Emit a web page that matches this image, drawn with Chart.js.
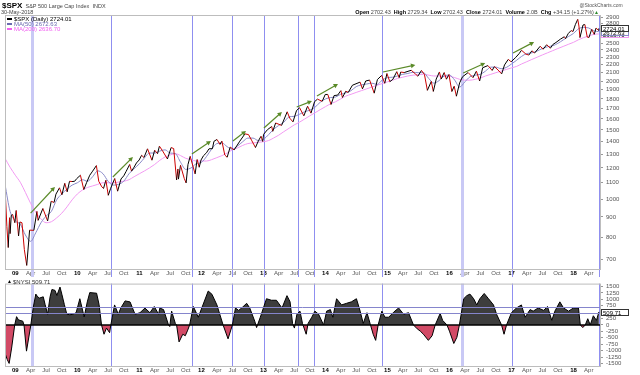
<!DOCTYPE html>
<html>
<head>
<meta charset="utf-8">
<script src="https://cdn.jsdelivr.net/npm/chart.js@4.4.1/dist/chart.umd.min.js"></script>
<style>
  html, body { margin: 0; padding: 0; background: #fff; }
  #wrap { position: relative; width: 640px; height: 375px; }
  canvas { position: absolute; left: 0; }
  #priceChart { top: 0; }
  #oscChart { top: 277px; }
</style>
</head>
<body>
<div id="wrap">
  <canvas id="priceChart" width="640" height="277"></canvas>
  <canvas id="oscChart" width="640" height="98"></canvas>
</div>
<script>
// $SPX daily close with MA(50)/MA(200), breadth oscillator panel below.
const FONT = "'Liberation Sans', Arial, sans-serif";

const priceDates = [
  '2008-11-04','2008-11-12','2008-11-20','2008-11-28','2008-12-01','2008-12-08','2008-12-16','2008-12-29',
  '2009-01-06','2009-01-20','2009-01-28','2009-02-09','2009-02-23','2009-03-09','2009-03-26','2009-04-20','2009-05-08','2009-05-15','2009-06-12','2009-07-10','2009-07-31','2009-08-17','2009-08-28','2009-09-18','2009-10-02','2009-10-19','2009-11-02','2009-11-16','2009-12-01','2009-12-16','2009-12-28',
  '2010-01-19','2010-02-08','2010-02-25','2010-03-15','2010-04-01','2010-04-23','2010-05-07','2010-05-25','2010-06-04','2010-06-18','2010-07-02','2010-07-16','2010-08-09','2010-08-26','2010-09-15','2010-10-01','2010-10-15','2010-11-05','2010-11-16','2010-12-01','2010-12-15','2010-12-31',
  '2011-01-14','2011-01-28','2011-02-18','2011-03-16','2011-04-01','2011-04-18','2011-04-29','2011-05-16','2011-06-15','2011-07-07','2011-07-22','2011-08-08','2011-08-16','2011-08-19','2011-08-31','2011-09-22','2011-10-03','2011-10-14','2011-10-27','2011-11-25','2011-12-07','2011-12-19','2011-12-30',
  '2012-01-13','2012-01-31','2012-02-15','2012-03-06','2012-03-15','2012-04-02','2012-04-20','2012-05-01','2012-05-18','2012-06-01','2012-06-19','2012-07-12','2012-08-15','2012-09-14','2012-10-05','2012-10-23','2012-11-15','2012-12-03','2012-12-18','2012-12-28',
  '2013-01-02','2013-01-25','2013-02-19','2013-02-25','2013-03-14','2013-04-18','2013-05-21','2013-06-05','2013-06-24','2013-07-15','2013-08-02','2013-08-27','2013-09-18','2013-10-08','2013-10-29','2013-11-15','2013-12-13','2013-12-31',
  '2014-01-15','2014-02-03','2014-02-21','2014-03-14','2014-04-02','2014-04-11','2014-05-01','2014-05-15','2014-06-09','2014-07-24','2014-08-07','2014-08-26','2014-09-18','2014-10-15','2014-11-03','2014-11-28','2014-12-16','2014-12-29',
  '2015-01-15','2015-02-02','2015-02-25','2015-03-11','2015-03-20','2015-04-10','2015-05-21','2015-06-15','2015-06-29','2015-07-20','2015-08-07','2015-08-24','2015-09-16','2015-09-28','2015-10-15','2015-11-03','2015-11-13','2015-12-01','2015-12-14','2015-12-29',
  '2016-01-15','2016-01-29','2016-02-11','2016-03-01','2016-03-18','2016-04-20','2016-05-19','2016-06-08','2016-06-27','2016-07-15','2016-08-15','2016-09-09','2016-09-22','2016-10-14','2016-11-04','2016-11-21','2016-12-13','2016-12-30',
  '2017-01-26','2017-02-15','2017-03-01','2017-03-27','2017-04-13','2017-05-01','2017-05-17','2017-06-19','2017-07-06','2017-07-27','2017-08-18','2017-09-01','2017-09-20','2017-10-16','2017-11-08','2017-11-15','2017-12-01','2017-12-18','2017-12-29',
  '2018-01-12','2018-01-26','2018-02-02','2018-02-08','2018-02-26','2018-03-09','2018-03-23','2018-04-02','2018-04-18','2018-05-03','2018-05-14','2018-05-29','2018-05-30'
];
const priceValues = [
  1005, 852, 752, 896, 816, 909, 913, 870,
  935, 805, 874, 870, 743, 677, 833, 832, 930, 882, 946, 879, 987, 980, 1029, 1068, 1025, 1097, 1043, 1110, 1108, 1110, 1127,
  1150, 1057, 1103, 1150, 1178, 1217, 1110, 1074, 1064, 1117, 1022, 1065, 1128, 1047, 1125, 1146, 1176, 1225, 1178, 1206, 1236, 1258,
  1293, 1276, 1343, 1256, 1332, 1305, 1364, 1330, 1265, 1353, 1345, 1119, 1193, 1124, 1219, 1129, 1099, 1224, 1285, 1159, 1261, 1205, 1258,
  1289, 1312, 1343, 1344, 1403, 1419, 1378, 1405, 1295, 1278, 1357, 1334, 1405, 1466, 1460, 1413, 1353, 1409, 1446, 1402,
  1462, 1503, 1531, 1488, 1563, 1541, 1669, 1608, 1573, 1682, 1709, 1630, 1725, 1656, 1771, 1798, 1775, 1848,
  1848, 1742, 1836, 1841, 1890, 1815, 1884, 1870, 1951, 1987, 1910, 2000, 2011, 1862, 2017, 2067, 1973, 2090,
  1992, 2020, 2113, 2040, 2108, 2102, 2130, 2084, 2057, 2128, 2077, 1893, 1995, 1881, 2023, 2109, 2023, 2102, 2021, 2078,
  1880, 1940, 1829, 1978, 2050, 2102, 2040, 2119, 2000, 2162, 2190, 2128, 2177, 2133, 2085, 2198, 2271, 2239,
  2297, 2349, 2396, 2342, 2329, 2388, 2357, 2453, 2410, 2475, 2425, 2477, 2508, 2557, 2594, 2565, 2642, 2690, 2674,
  2786, 2873, 2762, 2581, 2779, 2786, 2588, 2582, 2708, 2630, 2730, 2690, 2724.01
];

// moving averages, read at month starts
const maDates = [
  '2008-11','2008-12',
  '2009-01','2009-02','2009-03','2009-04','2009-05','2009-06','2009-07','2009-08','2009-09','2009-10','2009-11','2009-12',
  '2010-01','2010-02','2010-03','2010-04','2010-05','2010-06','2010-07','2010-08','2010-09','2010-10','2010-11','2010-12',
  '2011-01','2011-02','2011-03','2011-04','2011-05','2011-06','2011-07','2011-08','2011-09','2011-10','2011-11','2011-12',
  '2012-01','2012-02','2012-03','2012-04','2012-05','2012-06','2012-07','2012-08','2012-09','2012-10','2012-11','2012-12',
  '2013-01','2013-02','2013-03','2013-04','2013-05','2013-06','2013-07','2013-08','2013-09','2013-10','2013-11','2013-12',
  '2014-01','2014-02','2014-03','2014-04','2014-05','2014-06','2014-07','2014-08','2014-09','2014-10','2014-11','2014-12',
  '2015-01','2015-02','2015-03','2015-04','2015-05','2015-06','2015-07','2015-08','2015-09','2015-10','2015-11','2015-12',
  '2016-01','2016-02','2016-03','2016-04','2016-05','2016-06','2016-07','2016-08','2016-09','2016-10','2016-11','2016-12',
  '2017-01','2017-02','2017-03','2017-04','2017-05','2017-06','2017-07','2017-08','2017-09','2017-10','2017-11','2017-12',
  '2018-01','2018-02','2018-03','2018-04','2018-05','2018-05-30'
];
const ma50Values = [
  1090, 930,
  880, 860, 810, 780, 820, 870, 905, 930, 995, 1030, 1060, 1085,
  1100, 1120, 1110, 1140, 1180, 1160, 1110, 1085, 1090, 1110, 1160, 1195,
  1230, 1275, 1310, 1310, 1325, 1335, 1310, 1305, 1240, 1190, 1200, 1230,
  1240, 1285, 1340, 1385, 1390, 1360, 1340, 1365, 1400, 1430, 1430, 1410,
  1420, 1460, 1505, 1540, 1570, 1620, 1625, 1645, 1670, 1685, 1715, 1765,
  1800, 1815, 1820, 1850, 1865, 1890, 1935, 1955, 1965, 1975, 1960, 2010,
  2040, 2045, 2060, 2080, 2090, 2105, 2100, 2100, 2030, 1975, 2005, 2060,
  2070, 2010, 1930, 1990, 2050, 2070, 2080, 2120, 2170, 2170, 2150, 2165,
  2210, 2260, 2310, 2350, 2360, 2385, 2420, 2445, 2460, 2495, 2545, 2595,
  2645, 2720, 2740, 2730, 2685, 2672.63
];
const ma200Values = [
  1270, 1205,
  1150, 1100, 1040, 975, 925, 890, 870, 875, 895, 920, 955, 995,
  1030, 1055, 1070, 1080, 1090, 1100, 1100, 1100, 1105, 1110, 1120, 1140,
  1160, 1180, 1200, 1225, 1255, 1280, 1295, 1305, 1290, 1270, 1260, 1250,
  1250, 1250, 1260, 1275, 1290, 1310, 1335, 1350, 1370, 1385, 1390, 1395,
  1400, 1410, 1430, 1455, 1485, 1515, 1545, 1570, 1600, 1630, 1660, 1690,
  1720, 1750, 1770, 1800, 1830, 1850, 1870, 1890, 1910, 1930, 1950, 1970,
  1990, 2010, 2030, 2045, 2060, 2070, 2075, 2080, 2070, 2060, 2060, 2055,
  2055, 2040, 2020, 2010, 2010, 2020, 2035, 2060, 2080, 2100, 2120, 2140,
  2160, 2180, 2210, 2240, 2270, 2300, 2330, 2360, 2390, 2420, 2450, 2480,
  2510, 2550, 2580, 2605, 2630, 2636.70
];

// lower panel oscillator (time as decimal year)
const oscTimes = [
  2008.84, 2008.87, 2008.90, 2008.94, 2008.99, 2009.02, 2009.05, 2009.09, 2009.12, 2009.14,
  2009.18, 2009.25, 2009.29, 2009.33, 2009.36, 2009.39, 2009.45, 2009.48, 2009.52, 2009.56,
  2009.59, 2009.64, 2009.67, 2009.72, 2009.75, 2009.79, 2009.83, 2009.88, 2009.93, 2009.98,
  2010.04, 2010.11, 2010.16, 2010.20, 2010.31, 2010.35, 2010.39, 2010.43, 2010.47, 2010.52,
  2010.54, 2010.60, 2010.66, 2010.70, 2010.77, 2010.85, 2010.93, 2011.01, 2011.09, 2011.17,
  2011.24, 2011.31, 2011.33, 2011.39, 2011.47, 2011.49, 2011.52, 2011.58, 2011.60, 2011.64,
  2011.70, 2011.74, 2011.78, 2011.81, 2011.87, 2011.95, 2012.11, 2012.17, 2012.25, 2012.35,
  2012.43, 2012.50, 2012.55, 2012.60, 2012.65, 2012.73, 2012.78, 2012.86, 2012.89, 2012.95,
  2013.05, 2013.13, 2013.21, 2013.30, 2013.38, 2013.43, 2013.47, 2013.50, 2013.54, 2013.59,
  2013.63, 2013.69, 2013.72, 2013.78, 2013.83, 2013.89, 2013.97, 2014.02, 2014.08, 2014.12,
  2014.18, 2014.26, 2014.34, 2014.42, 2014.50, 2014.56, 2014.61, 2014.67, 2014.72, 2014.77,
  2014.81, 2014.85, 2014.91, 2014.96, 2015.02, 2015.10, 2015.18, 2015.26, 2015.34, 2015.42,
  2015.48, 2015.53, 2015.58, 2015.66, 2015.72, 2015.77, 2015.85, 2015.89, 2015.96, 2016.00,
  2016.07, 2016.12, 2016.16, 2016.23, 2016.28, 2016.33, 2016.39, 2016.44, 2016.49, 2016.56,
  2016.63, 2016.71, 2016.76, 2016.84, 2016.88, 2016.92, 2017.00, 2017.08, 2017.16, 2017.22,
  2017.30, 2017.35, 2017.43, 2017.52, 2017.58, 2017.65, 2017.70, 2017.78, 2017.84, 2017.92,
  2018.00, 2018.08, 2018.11, 2018.15, 2018.19, 2018.23, 2018.27, 2018.32, 2018.37, 2018.41
];
const oscValues = [
  -1150, -1350, -1500, -900, 0, 325, 200, 170, 150, 0,
  -1020, 0, 700, 1205, 1100, 1050, 1100, 800, 420, 1100,
  1386, 1350, 1150, 1480, 1200, 800, 420, 400, 420, 480,
  1025, 314, 900, 1264, 1240, 800, 0, -361, -120, -300,
  0, 783, 420, 660, 940, 900, 420, 480, 660, 480,
  720, 420, 660, 600, 0, -60, 540, 60, 0, -660,
  -360, -420, -200, 0, 722, 303, 1325, 1200, 783, 0,
  -540, 0, 664, 570, 664, 845, 664, 150, -100, 303,
  1025, 965, 965, 664, 1145, 905, 60, -120, 420, 540,
  60, -361, 60, 303, 540, 420, 0, 540, 600, 303,
  1025, 783, 845, 905, 1025, 540, 60, 480, 60, -361,
  -600, 0, 540, 303, 303, 500, 664, 420, 480, 0,
  -150, -240, -361, -600, -420, 0, 450, 180, 0, -240,
  -722, -480, 0, 1025, 1145, 1205, 1025, 783, 1025, 1230,
  1025, 783, 420, 0, -361, 0, 480, 664, 783, 303,
  600, 540, 664, 570, 722, 180, 540, 903, 664, 540,
  664, 664, 0, -100, 0, 245, 0, 360, 180, 509.71
];
const oscLevels = [700, 480];

// axis ticks
const priceTicks = [700, 800, 900, 1000, 1100, 1200, 1300, 1400, 1500, 1600, 1700, 1800, 1900, 2000,
  2100, 2200, 2300, 2400, 2500, 2600, 2700, 2800, 2900];
const oscTicks = [1500, 1250, 1000, 750, 500, 250, 0, -250, -500, -750, -1000, -1250, -1500];
const tickYears = [2009, 2010, 2011, 2012, 2013, 2014, 2015, 2016, 2017, 2018];
const quarterNames = ['Apr', 'Jul', 'Oct'];

// annotations
const signalDates = ['2010-07-17', '2011-11-06', '2012-06-29', '2013-01-04', '2013-07-23', '2013-10-26',
  '2014-11-30', '2017-01-04', '2018-05-31'];
const zoneDates = ['2009-04-08', '2016-03-15'];
const arrowFromDates = ['2009-04-01', '2010-07-29', '2011-11-06', '2012-07-05', '2013-01-04',
  '2013-07-16', '2013-11-12', '2014-12-06', '2016-03-22', '2017-01-10'];
const arrowFromValues = [921, 1138, 1302, 1406, 1518, 1717, 1831, 2109, 2096, 2357];
const arrowToDates = ['2009-08-22', '2010-11-24', '2012-02-26', '2012-09-20', '2013-04-20',
  '2013-10-14', '2014-03-16', '2015-06-14', '2016-07-30', '2017-05-14'];
const arrowToValues = [1073, 1280, 1406, 1491, 1667, 1778, 1965, 2197, 2223, 2515];

// header / legend text
const quoteLabels = ['Open', 'High', 'Low', 'Close', 'Volume', 'Chg'];
const quoteValues = ['2702.43', '2729.34', '2702.43', '2724.01', '2.0B', '+34.15 (+1.27%)'];
const lastPrice = 2724.01, lastMa50 = 2672.63, lastMa200 = 2636.70, lastOsc = 509.71;

function toYear(s) {
  const [y, m, d] = s.split('-').map(Number);
  const t0 = Date.UTC(y, 0, 1), t1 = Date.UTC(y + 1, 0, 1);
  return y + (Date.UTC(y, m - 1, d || 1) - t0) / (t1 - t0);
}

const xMin = toYear('2008-11-01');
const xMax = toYear('2018-06-06');

const xTicks = [];
tickYears.forEach(yr => {
  xTicks.push({ value: yr, label: String(yr).slice(2), major: true });
  quarterNames.forEach((name, i) => {
    const v = toYear(`${yr}-${String(4 + 3 * i).padStart(2, '0')}-01`);
    if (v < xMax) xTicks.push({ value: v, label: name, major: false });
  });
});

const colors = {
  up: '#000000',
  down: '#cc0000',
  ma50: '#8a8ac8',
  ma200: '#f29af2',
  signal: '#8f8ff0',
  zone: '#c9c9f5',
  arrow: '#5a8a28',
  frame: '#bdbdbd',
  oscUp: '#3d3d3d',
  oscDown: '#d24a66',
  level: '#8585cc',
  axisText: '#555',
};

function xAxis(height) {
  return {
    type: 'linear', min: xMin, max: xMax, bounds: 'data',
    grid: { display: false, drawTicks: false },
    border: { display: false },
    afterBuildTicks: s => { s.ticks = xTicks.map(t => ({ value: t.value })); },
    afterFit: s => { s.height = height; },
    ticks: {
      autoSkip: false, maxRotation: 0, minRotation: 0, padding: 1,
      callback: (v, i) => (xTicks[i] ? xTicks[i].label : ''),
      font: ctx => ({ family: FONT, size: 6, weight: xTicks[ctx.index] && xTicks[ctx.index].major ? 'bold' : 'normal' }),
      color: ctx => (xTicks[ctx.index] && xTicks[ctx.index].major ? '#000' : colors.axisText),
    },
  };
}

function rightAxis(extra) {
  return Object.assign({
    position: 'right', bounds: 'data',
    grid: { drawOnChartArea: false, tickLength: 3, color: '#999' },
    border: { display: false },
    afterFit: s => { s.width = 40; },
    ticks: { autoSkip: false, padding: 3, font: { family: FONT, size: 6 }, color: colors.axisText,
      callback: v => String(v) },
  }, extra);
}

function drawMarkers(ctx, x, top, bottom) {
  ctx.save();
  zoneDates.forEach(d => {
    const px = Math.round(x.getPixelForValue(toYear(d)));
    ctx.fillStyle = colors.zone;
    ctx.fillRect(px - 1, top, 3, bottom - top);
  });
  ctx.strokeStyle = colors.signal;
  ctx.lineWidth = 1;
  signalDates.forEach(d => {
    const px = Math.round(x.getPixelForValue(toYear(d))) + 0.5;
    ctx.beginPath(); ctx.moveTo(px, top); ctx.lineTo(px, bottom); ctx.stroke();
  });
  ctx.restore();
}

function drawFrame(ctx, a) {
  ctx.save();
  ctx.strokeStyle = colors.frame;
  ctx.lineWidth = 1;
  ctx.strokeRect(a.left + 0.5, a.top + 0.5, a.right - a.left, a.bottom - a.top);
  ctx.restore();
}

function valueBox(ctx, yPix, text, border) {
  const x0 = 601, w = 27, h = 6;
  const top = Math.round(yPix - h / 2);
  ctx.fillStyle = '#fff';
  ctx.fillRect(x0, top, w, h);
  ctx.strokeStyle = border;
  ctx.lineWidth = 1;
  ctx.strokeRect(x0 + 0.5, top + 0.5, w, h);
  ctx.fillStyle = '#000';
  ctx.font = `6px ${FONT}`;
  ctx.textAlign = 'left';
  ctx.textBaseline = 'middle';
  ctx.fillText(text, x0 + 2, top + h / 2 + 1);
}

function legendRow(ctx, x, y, color, text) {
  ctx.fillStyle = color;
  ctx.fillRect(x, y - 1, 5, 2);
  ctx.font = `6px ${FONT}`;
  ctx.textAlign = 'left';
  ctx.textBaseline = 'middle';
  ctx.fillText(text, x + 7, y + 0.5);
}

const priceDecor = {
  id: 'priceDecor',
  beforeDatasetsDraw(chart) {
    drawMarkers(chart.ctx, chart.scales.x, chart.chartArea.top, chart.height);
  },
  afterDatasetsDraw(chart) {
    const { ctx, scales: { x, y } } = chart;
    ctx.save();
    ctx.strokeStyle = colors.arrow;
    ctx.fillStyle = colors.arrow;
    ctx.lineWidth = 1.2;
    arrowFromDates.forEach((d, i) => {
      const x0 = x.getPixelForValue(toYear(d)), y0 = y.getPixelForValue(arrowFromValues[i]);
      const x1 = x.getPixelForValue(toYear(arrowToDates[i])), y1 = y.getPixelForValue(arrowToValues[i]);
      const ang = Math.atan2(y1 - y0, x1 - x0), h = 5;
      ctx.beginPath();
      ctx.moveTo(x0, y0);
      ctx.lineTo(x1 - Math.cos(ang) * 3, y1 - Math.sin(ang) * 3);
      ctx.stroke();
      ctx.beginPath();
      ctx.moveTo(x1, y1);
      ctx.lineTo(x1 - h * Math.cos(ang - 0.5), y1 - h * Math.sin(ang - 0.5));
      ctx.lineTo(x1 - h * Math.cos(ang + 0.5), y1 - h * Math.sin(ang + 0.5));
      ctx.closePath();
      ctx.fill();
    });
    ctx.restore();
  },
  afterDraw(chart) {
    const { ctx, chartArea: a, scales: { y } } = chart;
    ctx.save();
    drawFrame(ctx, a);

    // title block
    ctx.textBaseline = 'alphabetic';
    ctx.textAlign = 'left';
    ctx.fillStyle = '#000';
    ctx.font = `bold 8px ${FONT}`;
    ctx.fillText('$SPX', 2, 8);
    const tw = ctx.measureText('$SPX').width;
    ctx.font = `5.5px ${FONT}`;
    ctx.fillStyle = '#444';
    ctx.fillText('S&P 500 Large Cap Index  INDX', 2 + tw + 3, 8);
    ctx.fillText('30-May-2018', 1, 14);

    ctx.font = `5px ${FONT}`;
    ctx.textAlign = 'center';
    ctx.fillStyle = '#555';
    ctx.fillText('@StockCharts.com', 601, 7);

    // quote line, right aligned
    const parts = [];
    quoteLabels.forEach((lab, i) => {
      parts.push([lab + ' ', `bold 5.5px ${FONT}`, '#000']);
      parts.push([quoteValues[i] + '  ', `5.5px ${FONT}`, '#444']);
    });
    let total = 0;
    parts.forEach(p => { ctx.font = p[1]; total += ctx.measureText(p[0]).width; });
    let cx = 597 - total;
    ctx.textAlign = 'left';
    parts.forEach(p => {
      ctx.font = p[1]; ctx.fillStyle = p[2];
      ctx.fillText(p[0], cx, 14);
      cx += ctx.measureText(p[0]).width;
    });
    ctx.fillStyle = '#2e8b2e';
    ctx.font = `5px ${FONT}`;
    ctx.fillText('▲', cx - 3, 14);

    // legend
    legendRow(ctx, 7, 19, '#000', '$SPX (Daily) 2724.01');
    legendRow(ctx, 7, 24, '#6a6ab0', 'MA(50) 2672.63');
    legendRow(ctx, 7, 29, '#f060f0', 'MA(200) 2636.70');

    // last-value boxes
    valueBox(ctx, y.getPixelForValue(lastMa200), '2636.70', colors.ma200);
    valueBox(ctx, y.getPixelForValue(lastMa50), '2672.63', colors.ma50);
    valueBox(ctx, y.getPixelForValue(lastPrice), '2724.01', '#333');
    ctx.restore();
  },
};

const oscDecor = {
  id: 'oscDecor',
  beforeDatasetsDraw(chart) {
    drawMarkers(chart.ctx, chart.scales.x, chart.chartArea.top, chart.chartArea.bottom);
  },
  afterDatasetsDraw(chart) {
    const { ctx, chartArea: a, scales: { y } } = chart;
    ctx.save();
    ctx.strokeStyle = colors.level;
    ctx.lineWidth = 1;
    oscLevels.forEach(v => {
      const py = Math.round(y.getPixelForValue(v)) + 0.5;
      ctx.beginPath(); ctx.moveTo(a.left, py); ctx.lineTo(a.right, py); ctx.stroke();
    });
    const zy = y.getPixelForValue(0);
    ctx.strokeStyle = '#000';
    ctx.lineWidth = 1.5;
    ctx.beginPath(); ctx.moveTo(a.left, zy); ctx.lineTo(a.right, zy); ctx.stroke();
    ctx.restore();
  },
  afterDraw(chart) {
    const { ctx, chartArea: a, scales: { y } } = chart;
    ctx.save();
    drawFrame(ctx, a);
    ctx.fillStyle = '#000';
    ctx.font = `5px ${FONT}`;
    ctx.textAlign = 'left';
    ctx.textBaseline = 'middle';
    ctx.fillText('▲', 7, 5);
    ctx.font = `6px ${FONT}`;
    ctx.fillStyle = '#333';
    ctx.fillText('$NYSI 509.71', 13, 5.5);
    valueBox(ctx, y.getPixelForValue(lastOsc), '509.71', '#333');
    ctx.restore();
  },
};

new Chart(document.getElementById('priceChart'), {
  type: 'line',
  data: {
    datasets: [
      {
        label: '$SPX',
        data: priceDates.map((d, i) => ({ x: toYear(d), y: priceValues[i] })),
        borderWidth: 1,
        borderColor: colors.up,
        pointRadius: 0,
        segment: { borderColor: c => (c.p1.parsed.y < c.p0.parsed.y ? colors.down : colors.up) },
      },
      {
        label: 'MA(50)',
        data: maDates.map((d, i) => ({ x: toYear(d), y: ma50Values[i] })),
        borderWidth: 1,
        borderColor: colors.ma50,
        pointRadius: 0,
        cubicInterpolationMode: 'monotone',
      },
      {
        label: 'MA(200)',
        data: maDates.map((d, i) => ({ x: toYear(d), y: ma200Values[i] })),
        borderWidth: 1,
        borderColor: colors.ma200,
        pointRadius: 0,
        cubicInterpolationMode: 'monotone',
      },
    ],
  },
  options: {
    responsive: false,
    animation: false,
    events: [],
    parsing: false,
    layout: { padding: { left: 5, top: 15, right: 0, bottom: 0 }, autoPadding: false },
    plugins: { legend: { display: false }, tooltip: { enabled: false } },
    scales: {
      x: xAxis(8),
      y: rightAxis({
        type: 'logarithmic', min: 663, max: 2947,
        afterBuildTicks: s => { s.ticks = priceTicks.map(v => ({ value: v })); },
      }),
    },
  },
  plugins: [priceDecor],
});

new Chart(document.getElementById('oscChart'), {
  type: 'line',
  data: {
    datasets: [{
      label: 'oscillator',
      data: oscTimes.map((t, i) => ({ x: t, y: oscValues[i] })),
      borderWidth: 1,
      borderColor: '#000',
      pointRadius: 0,
      fill: { target: { value: 0 }, above: colors.oscUp, below: colors.oscDown },
    }],
  },
  options: {
    responsive: false,
    animation: false,
    events: [],
    parsing: false,
    layout: { padding: { left: 5, top: 0, right: 0, bottom: 0 }, autoPadding: false },
    plugins: { legend: { display: false }, tooltip: { enabled: false } },
    scales: {
      x: xAxis(9),
      y: rightAxis({
        type: 'linear', min: -1600, max: 1615,
        afterBuildTicks: s => { s.ticks = oscTicks.map(v => ({ value: v })); },
      }),
    },
  },
  plugins: [oscDecor],
});
</script>
</body>
</html>
